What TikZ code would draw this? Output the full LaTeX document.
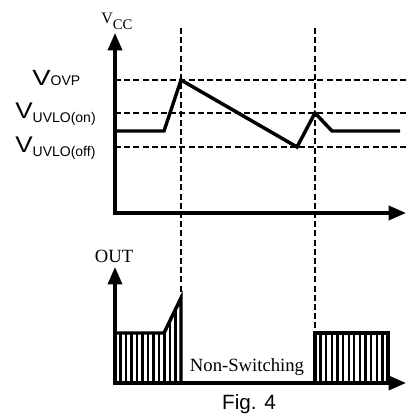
\documentclass[tikz,border=0pt]{standalone}
\usepackage{fontspec}
\usepackage{graphicx}
\setmainfont{Liberation Serif}
\newfontfamily\arial{Liberation Sans}
\usetikzlibrary{positioning, arrows.meta}

\begin{document}
\begin{tikzpicture}[
    x=0.75pt, y=-0.75pt,
    eje/.style={
        line width=2.6pt,
        {Triangle[length=13pt, width=10.5pt]}-{Triangle[length=13pt, width=10.5pt]}
    },
    guia/.style={
        line width=2.1pt,
        dash pattern=on 4.5pt off 2.4pt
    },
    senal/.style={
        line width=2.6pt
    },
    rayado/.style={
        line width=1.7pt
    },
    nivel/.style={
        font=\arial,
        anchor=base west,
        inner sep=0pt
    },
    titulo/.style={
        anchor=base,
        inner sep=0pt
    }
]
\useasboundingbox (0,0) rectangle (406,414);

% ejes
\coordinate (o1) at (115,213);
\coordinate (arriba1) at (115,33);
\coordinate (derecha1) at (406,213);
\coordinate (o2) at (115,383);
\coordinate (arriba2) at (115,267);
\coordinate (derecha2) at (406,383);

% guias
\draw[guia] (115,80) -- (406,80);
\draw[guia] (115,113) -- (406,113);
\draw[guia] (115,147) -- (406,147);
\draw[guia] (181,28) -- (181,298);
\draw[guia] (315,28) -- (315,333);

\draw[eje] (arriba1) -- (o1) -- (derecha1);
\draw[eje] (arriba2) -- (o2) -- (derecha2);

% Vcc
\draw[senal] (115,131) -- (164,131) -- (181,80) -- (297,147) -- (315,113) -- (332,131) -- (400,131);

% OUT
\begin{scope}
    \clip (115,333) -- (164,333) -- (181,298) -- (181,383) -- (115,383) -- cycle;
    \foreach \k in {1,...,12}
        \draw[rayado] ({115+5.5*\k},290) -- ({115+5.5*\k},390);
\end{scope}
\draw[senal] (115,333) -- (164,333) -- (181,298) -- (181,383);
\foreach \k in {1,...,12}
    \draw[rayado] ({315+73/13*\k},333) -- ({315+73/13*\k},383);
\draw[senal] (315,383) -- (315,333) -- (388,333) -- (388,383);

% etiquetas
\node[titulo, anchor=base west] (vcc) at (101,23) {\fontsize{12}{14}\selectfont V\raisebox{-4.5pt}{\fontsize{11}{12}\selectfont CC}};
\node[nivel] (vovp) at (32,85) {\fontsize{16.5}{18}\selectfont\scalebox{1.25}[1]{V}\fontsize{10.5}{12}\selectfont OVP};
\node[nivel] (vuvloon) at (15,118.7) {\fontsize{17}{18}\selectfont\scalebox{1.15}[1]{V}\raisebox{-3pt}{\fontsize{10.5}{12}\selectfont UVLO(on)}};
\node[nivel] (vuvlooff) at (15,152.7) {\fontsize{17}{18}\selectfont\scalebox{1.15}[1]{V}\raisebox{-3pt}{\fontsize{10.5}{12}\selectfont UVLO(off)}};
\node[titulo] (out) at (114,262.7) {\fontsize{14}{16}\selectfont OUT};
\node[titulo] (nosw) at (247,371.7) {\fontsize{14}{16}\selectfont Non-Switching};
\node[titulo, font=\arial] (fig) at (249,409) {\fontsize{15.5}{18}\selectfont Fig. 4};

\end{tikzpicture}
\end{document}
